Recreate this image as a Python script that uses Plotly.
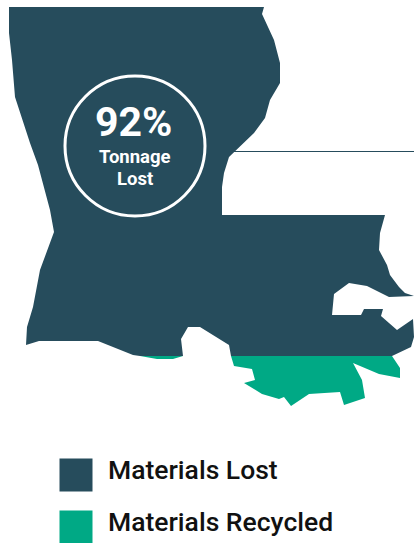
import plotly.graph_objects as go

# Louisiana silhouette, split at the share line between lost and recycled tonnage
lost_x = [9, 264, 262, 274, 280, 280, 270, 265, 254, 229, 224, 222, 222, 385, 380, 379, 387, 390, 399, 405, 414,
          389, 367, 349, 334, 332, 361, 364, 383, 381, 397, 413, 414, 411, 392, 231, 229, 207, 200, 188, 181, 183,
          140, 133, 98, 39, 26, 27, 33, 40, 54, 50, 38, 30, 15, 12, 9, 9]
lost_y = [7, 7, 14, 40, 63, 83, 100, 118, 133, 157, 173, 187, 215, 215, 233, 250, 265, 275, 287, 293, 296,
          297, 286, 283, 294, 315, 315, 309, 309, 316, 330, 319, 337, 347, 356, 356, 345, 332, 327, 327, 339, 356,
          356, 355, 341, 341, 345, 327, 307, 270, 232, 210, 165, 143, 97, 60, 33, 7]

recycled_x = [392, 400, 400, 379, 353, 362, 365, 344, 340, 309, 291, 284, 279, 262, 244, 255, 252, 234, 231]
recycled_y = [356, 368, 378, 374, 363, 380, 398, 405, 392, 394, 406, 397, 399, 394, 383, 380, 369, 366, 356]

sliver_x = [140, 183, 173, 157]
sliver_y = [356, 356, 359, 359]

# Hairline left along the top of the Lake Pontchartrain notch
notch_x = [234, 414]
notch_y = [151.5, 151.5]

legend_labels = ["Materials Lost", "Materials Recycled"]
legend_x = [76, 76]
legend_y = [475, 527]

LOST = "#264C5C"
RECYCLED = "#00A985"
FONT = "Roboto"

fig = go.Figure()


def area(xs, ys, color):
    fig.add_trace(go.Scatter(x=xs, y=ys, mode="lines", fill="toself", fillcolor=color,
                             line=dict(width=0, color=color), hoverinfo="skip", showlegend=False))


area(lost_x, lost_y, LOST)
area(recycled_x, recycled_y, RECYCLED)
area(sliver_x, sliver_y, RECYCLED)

fig.add_trace(go.Scatter(x=notch_x, y=notch_y, mode="lines", line=dict(width=1, color=LOST),
                         hoverinfo="skip", showlegend=False))

# Legend swatches and labels
fig.add_trace(go.Scatter(x=legend_x, y=legend_y, mode="markers",
                         marker=dict(symbol="square", size=33, color=[LOST, RECYCLED], line=dict(width=0)),
                         hoverinfo="skip", showlegend=False))
for label, yy in zip(legend_labels, legend_y):
    fig.add_annotation(x=106, y=yy - 6, text=label, showarrow=False, xanchor="left", yanchor="middle",
                       font=dict(family=FONT, size=26.5, color="#111111", weight=500))

# Callout ring around the headline figure
fig.add_shape(type="circle", x0=65, y0=76, x1=205, y1=216, line=dict(color="white", width=3))
fig.add_annotation(x=133.5, y=122, text="92%", showarrow=False,
                   font=dict(family=FONT, size=41, color="white", weight=700))
fig.add_annotation(x=134.5, y=157, text="Tonnage", showarrow=False,
                   font=dict(family=FONT, size=18.5, color="white", weight=700))
fig.add_annotation(x=134.5, y=179, text="Lost", showarrow=False,
                   font=dict(family=FONT, size=18.5, color="white", weight=700))

fig.update_layout(
    width=414, height=543, margin=dict(l=0, r=0, t=0, b=0),
    paper_bgcolor="white", plot_bgcolor="white", showlegend=False,
    xaxis=dict(range=[0, 414], visible=False, fixedrange=True),
    yaxis=dict(range=[543, 0], visible=False, fixedrange=True),
)

fig.write_html("out.html", config=dict(displayModeBar=False))
